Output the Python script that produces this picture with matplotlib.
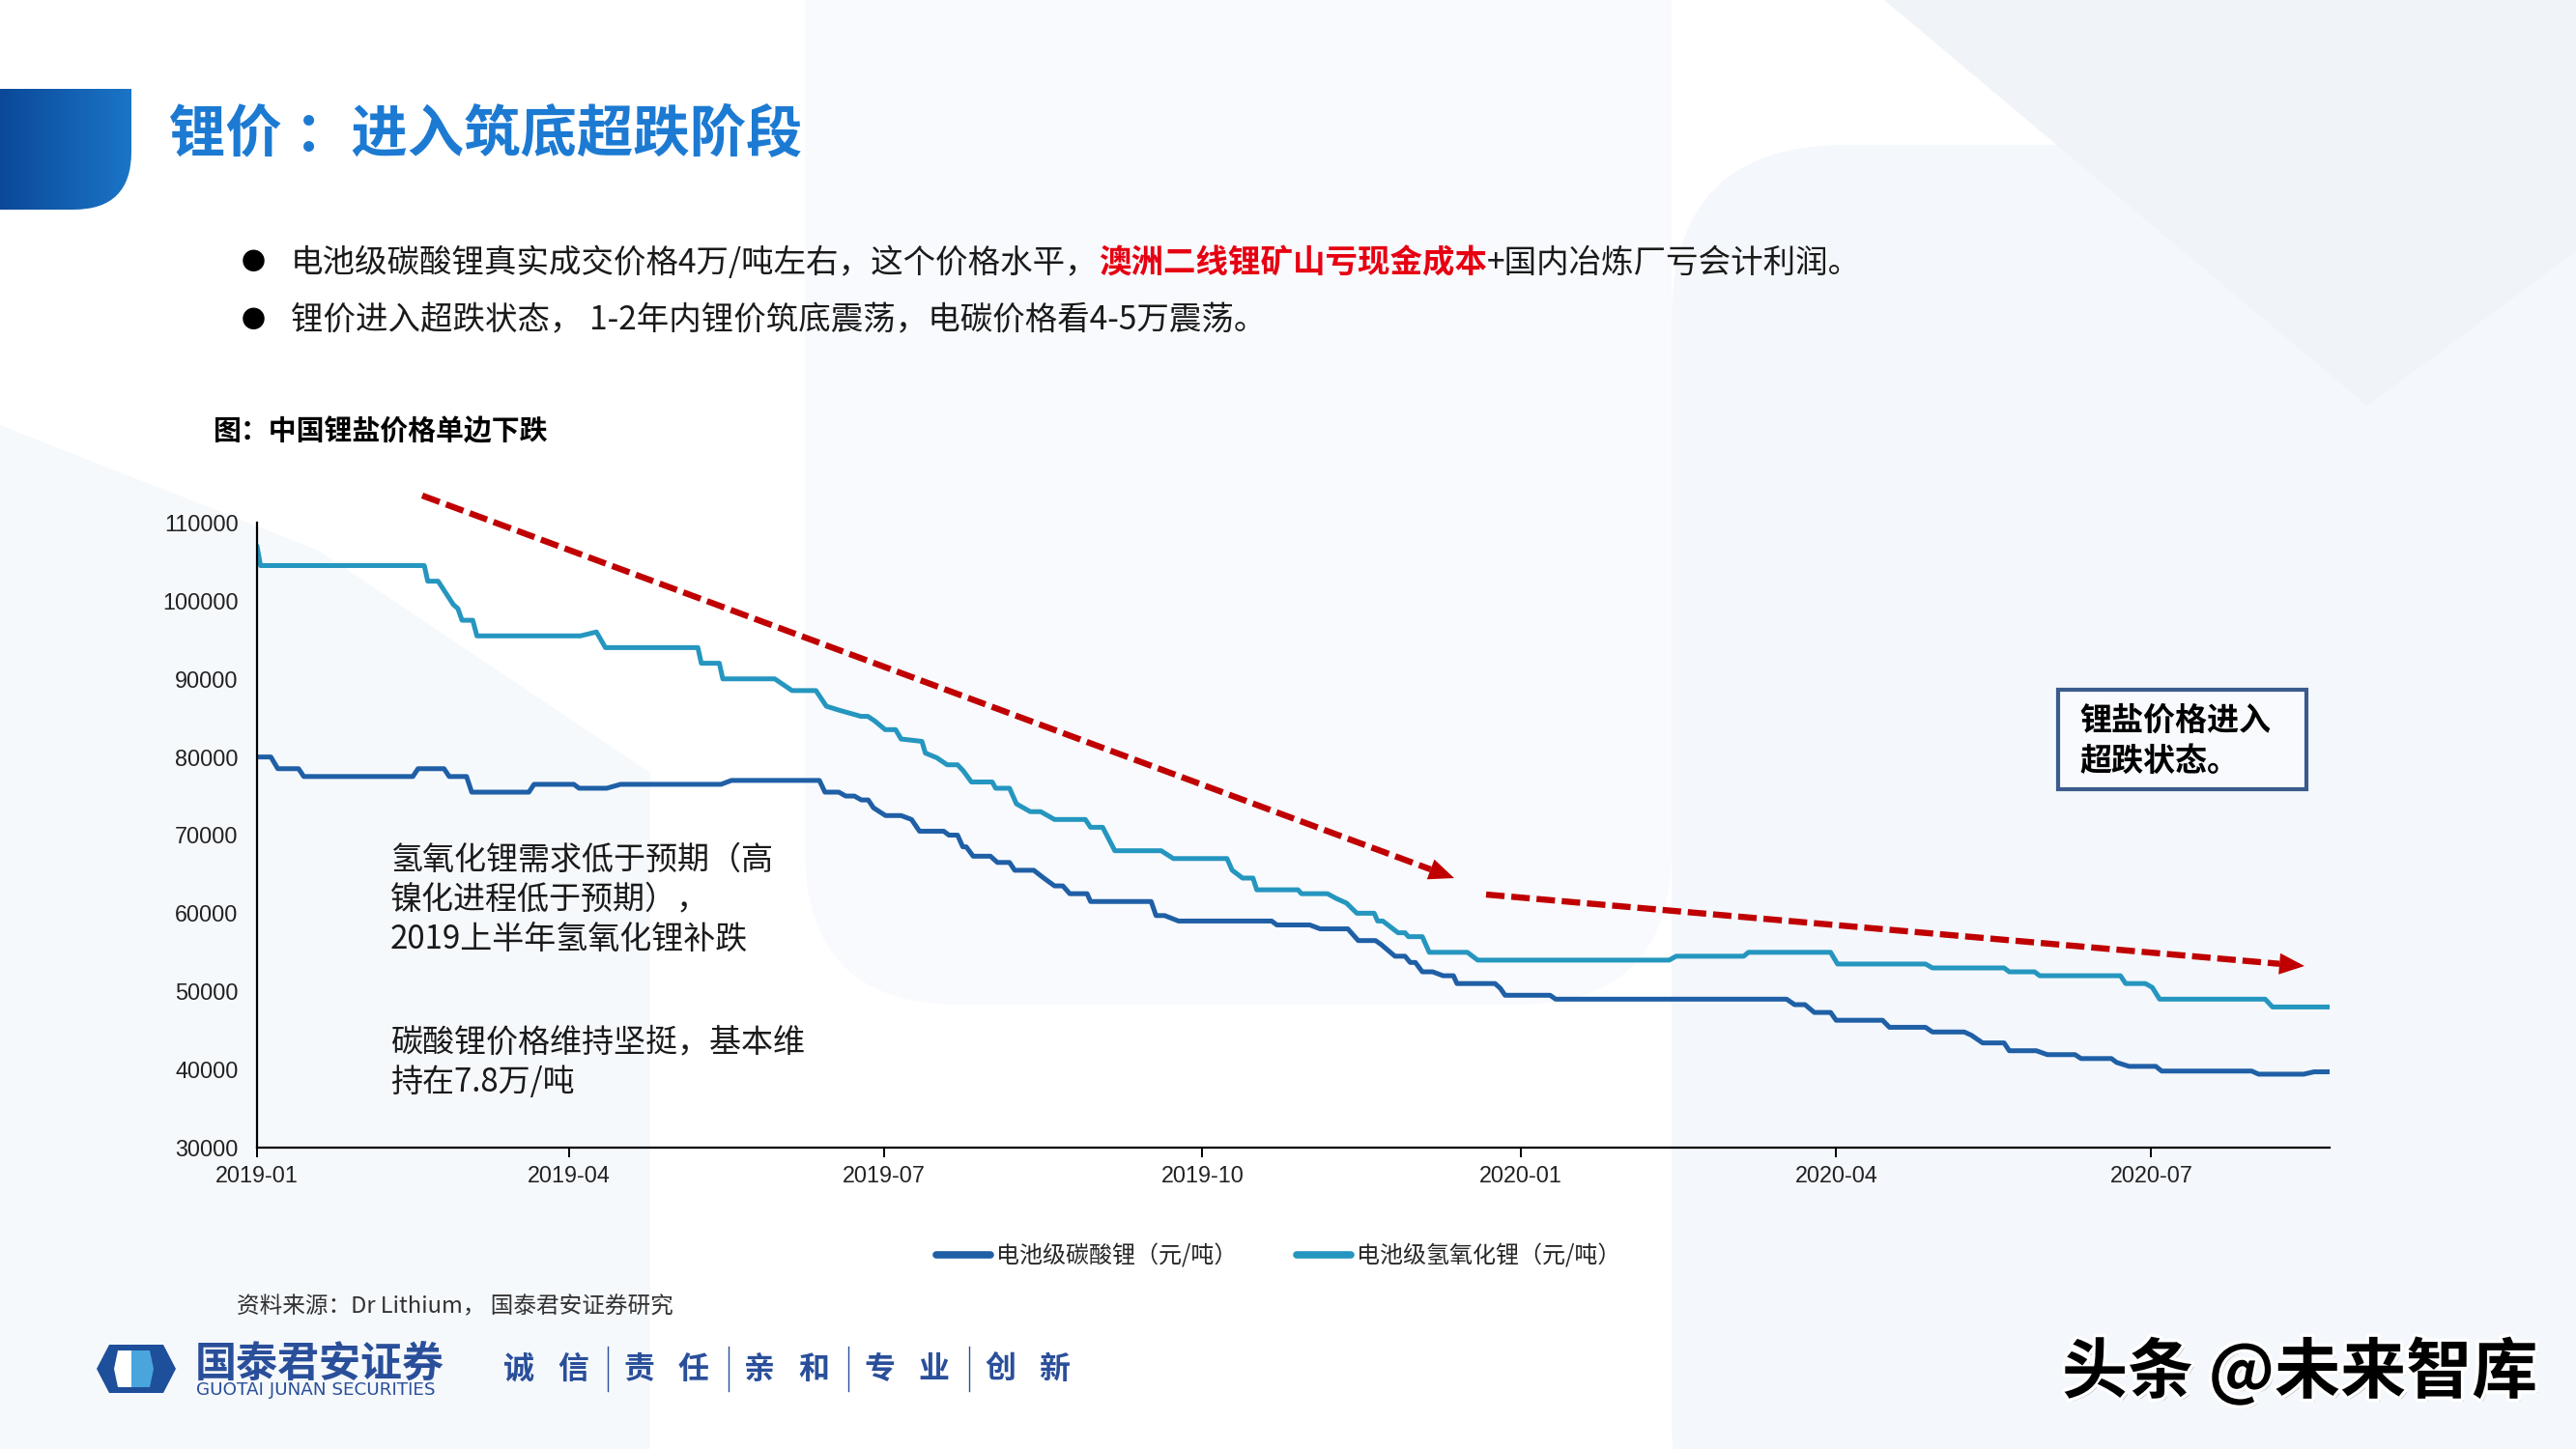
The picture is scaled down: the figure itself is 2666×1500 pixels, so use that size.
import numpy as np
import pandas as pd
import matplotlib
matplotlib.use('Agg')
import matplotlib.pyplot as plt
from matplotlib.patches import Polygon, Rectangle, PathPatch, FancyBboxPatch
from matplotlib.path import Path
from matplotlib.colors import LinearSegmentedColormap
import matplotlib.patheffects as pe

plt.rcParams['font.family'] = ['Noto Sans CJK SC', 'DejaVu Sans']

# 数据（从图中读取，day = 距 2019-01-01 的天数）
START = pd.Timestamp('2019-01-01')

carb_day = [0, 4, 6, 12, 13.5, 45, 46.5, 54, 55.5, 60.5, 62, 78.5, 80, 91.5, 93, 101, 105, 134, 137,
            162.4, 164, 168, 170, 172.5, 174.5, 176.5, 178, 181.5, 186, 189, 191.3, 198.3, 199.8, 202.3,
            203.8, 204.8, 206.8, 211.8, 213.8, 217.3, 218.8, 224.3, 227.2, 230.3, 232.7, 234.7, 239.7,
            240.7, 258.2, 259.6, 262.1, 266.1, 293, 294.5, 304, 307, 315, 318, 323, 324.6, 328.6, 331.5,
            333, 334.5, 336.5, 339.5, 342.5, 345.5, 346.5, 357.5, 359, 360.4, 373.4, 375, 441.7, 444,
            447, 449.7, 454.4, 456, 469.4, 471.4, 481.8, 483.8, 493, 495, 498.3, 504.5, 506, 513.8, 517,
            525, 526.7, 535.5, 537, 540.6, 548.3, 550, 576, 578, 591, 594, 598.5]
carb_price = [80000, 80000, 78500, 78500, 77500, 77500, 78500, 78500, 77500, 77500, 75500, 75500, 76500,
              76500, 76000, 76000, 76500, 76500, 77000,
              77000, 75500, 75500, 75000, 75000, 74500, 74500, 73500, 72500, 72500, 72000, 70500, 70500,
              70000, 70000,
              68500, 68500, 67300, 67300, 66500, 66500, 65500, 65500, 64500, 63500, 63500, 62500, 62500,
              61500, 61500, 59700, 59700, 59000, 59000, 58500, 58500, 58000, 58000, 56500, 56500, 56000,
              54500, 54500,
              53700, 53700, 52500, 52500, 52000, 52000, 51000, 51000, 50400, 49500, 49500, 49000, 49000,
              48300,
              48300, 47300, 47300, 46300, 46300, 45400, 45400, 44800, 44800, 44400, 43400, 43400, 42400,
              42400, 41900,
              41900, 41400, 41400, 40900, 40400, 40400, 39800, 39800, 39400, 39400, 39700, 39700]

hydro_day = [0, 1, 48.3, 49.3, 52.3, 54.5, 56.7, 58, 59.2, 62.3, 63.5, 93.4, 98, 100.6, 127.3, 128.3,
             133.5, 134.5, 149.5, 154.5, 161.4, 164.4, 168, 174.4, 176.4, 178.4, 181.4, 184.4, 186, 192,
             193, 196.3, 199.3, 202.3, 204, 206.3, 212.3, 213.3, 217.3, 219.3, 223.3, 226.3, 230.3, 239.2,
             240.7, 244.2, 247.7, 261.1, 264.6, 280.1, 281.6, 284.6, 287.6, 288.7, 300.6, 301.6, 309.1,
             311.6, 314.6, 317.6, 322.6, 323.6, 325.1, 329.5, 331.5, 332.5, 336.5, 338.5, 349.5, 352.5,
             407.8, 409.8, 429.3, 430.7, 454.4, 456.4, 481.8, 483.8, 504.5, 506, 513.3, 514.8, 538.1,
             539.6, 545.3, 547.3, 549.4, 579.9, 582, 598.5]
hydro_price = [107000, 104500, 104500, 102500, 102500, 101000, 99500, 99000, 97500, 97500, 95500, 95500,
               96000, 94000, 94000, 92000,
               92000, 90000, 90000, 88500, 88500, 86500, 86000, 85200, 85200, 84600, 83500, 83500, 82300,
               82000,
               80500, 79900, 79000, 79000, 78200, 76800, 76800, 76000, 76000, 74000, 73000, 73000, 72000,
               72000,
               71000, 71000, 68000, 68000, 67000, 67000, 65500, 64500, 64500, 63000, 63000, 62500, 62500,
               61900, 61300, 60000, 60000, 59000, 59000, 57500, 57500, 57000, 57000, 55000, 55000, 54000,
               54000, 54500, 54500, 55000, 55000, 53500, 53500, 53000, 53000, 52500, 52500, 52000, 52000,
               51000, 51000, 50500, 49000, 49000, 48000, 48000]

tick_months = ['2019-01', '2019-04', '2019-07', '2019-10', '2020-01', '2020-04', '2020-07']
y_ticks = [30000, 40000, 50000, 60000, 70000, 80000, 90000, 100000, 110000]

DARK = '#1F5FA6'
LIGHT = '#2596BF'
RED = '#C00000'
NAVY = '#2A4F9A'
TXT = '#1a1a1a'

W, H = 2666, 1500
fig = plt.figure(figsize=(W / 100, H / 100), dpi=100)
fig.patch.set_facecolor('white')

# 背景层，像素坐标
bg = fig.add_axes([0, 0, 1, 1], zorder=0)
bg.axis('off')

# 淡色背景块
bg.add_patch(Polygon([(0, 440), (330, 570), (673, 800), (673, 1500), (0, 1500)],
                     color='#f6f9fc', lw=0, zorder=0))
bg.add_patch(FancyBboxPatch((833, -200), 897, 1240, boxstyle='round,pad=0,rounding_size=160',
                            color='#f8fafd', lw=0, zorder=0))
bg.add_patch(FancyBboxPatch((1730, 150), 1200, 1500, boxstyle='round,pad=0,rounding_size=180',
                            color='#f4f7fb', lw=0, zorder=0))
bg.add_patch(Polygon([(1950, 0), (2666, 0), (2666, 260), (2450, 420)],
                     color='#f0f4f9', lw=0, zorder=0))

# 左上角蓝色色块（渐变）
verts = [(0, 92), (136, 92), (136, 157), (136, 217), (76, 217), (0, 217), (0, 92)]
codes = [Path.MOVETO, Path.LINETO, Path.LINETO, Path.CURVE3, Path.CURVE3, Path.LINETO, Path.CLOSEPOLY]
clip = PathPatch(Path(verts, codes), facecolor='none', edgecolor='none')
bg.add_patch(clip)
grad_cmap = LinearSegmentedColormap.from_list('hdr', ['#0b4899', '#1b75c7'])
im = bg.imshow(np.linspace(0, 1, 256).reshape(1, -1), cmap=grad_cmap, extent=(0, 136, 217, 92),
               aspect='auto', zorder=1)
im.set_clip_path(clip)
bg.set_xlim(0, W)
bg.set_ylim(H, 0)

# 标题
bg.text(175, 139, '锂价 ：进入筑底超跌阶段', fontsize=42, fontweight='bold', color='#1C7AD2',
        ha='left', va='center')

# 要点
for yy in (272, 332):
    bg.text(262, yy, '●', fontsize=18, color='black', ha='center', va='center')
t1 = bg.text(301, 272, '电池级碳酸锂真实成交价格4万/吨左右，这个价格水平，', fontsize=24.1,
             color=TXT, ha='left', va='center')
t2 = bg.annotate('澳洲二线锂矿山亏现金成本', xy=(1, 0), xycoords=t1, fontsize=24.1,
                 fontweight='bold', color='#E60012', ha='left', va='bottom')
bg.annotate('+国内冶炼厂亏会计利润。', xy=(1, 0), xycoords=t2, fontsize=24.1,
            color=TXT, ha='left', va='bottom')
bg.text(301, 332, '锂价进入超跌状态， 1-2年内锂价筑底震荡，电碳价格看4-5万震荡。', fontsize=24.1,
        color=TXT, ha='left', va='center')

# 图表小标题
bg.text(221, 446, '图：中国锂盐价格单边下跌', fontsize=20.8, fontweight='bold', color='black',
        ha='left', va='center')

# 主图
ax = fig.add_axes([266 / W, (H - 1188) / H, (2411 - 266) / W, (1188 - 541) / H], zorder=2)
ax.patch.set_alpha(0)

carb_dates = START + pd.to_timedelta(carb_day, unit='D')
hydro_dates = START + pd.to_timedelta(hydro_day, unit='D')

ax.plot(carb_dates, carb_price, color=DARK, lw=3.6, label='电池级碳酸锂（元/吨）',
        solid_capstyle='round', solid_joinstyle='round')
ax.plot(hydro_dates, hydro_price, color=LIGHT, lw=3.6, label='电池级氢氧化锂（元/吨）',
        solid_capstyle='round', solid_joinstyle='round')

ax.set_xlim(START, START + pd.Timedelta(days=598.5))
ax.set_ylim(30000, 110000)
ax.set_yticks(y_ticks)
ax.set_yticklabels([str(v) for v in y_ticks], fontsize=16.8, color='#222222',
                   family=['Liberation Sans', 'DejaVu Sans'])
ax.set_xticks([pd.Timestamp(m + '-01') for m in tick_months])
ax.set_xticklabels(tick_months, fontsize=16.8, color='#222222', family=['Liberation Sans', 'DejaVu Sans'])
ax.tick_params(axis='y', length=0, pad=14)
ax.tick_params(axis='x', length=7, width=1.4, direction='out', pad=6, color='black')
for s in ('top', 'right'):
    ax.spines[s].set_visible(False)
for s in ('left', 'bottom'):
    ax.spines[s].set_linewidth(1.6)
    ax.spines[s].set_color('black')

leg = fig.legend(loc='center', bbox_to_anchor=(0.4963, 0.1333), ncol=2, frameon=False, fontsize=17.3,
                 handlelength=2.3, handletextpad=0.25, columnspacing=2.6)
for ln in leg.get_lines():
    ln.set_linewidth(5.5)
for tx in leg.get_texts():
    tx.set_color('#262626')

# 覆盖层：箭头、注释、页脚
over = fig.add_axes([0, 0, 1, 1], zorder=3)
over.set_xlim(0, W)
over.set_ylim(H, 0)
over.axis('off')
over.patch.set_alpha(0)


def dashed_arrow(x0, y0, x1, y1):
    dx, dy = x1 - x0, y1 - y0
    L = np.hypot(dx, dy)
    ux, uy = dx / L, dy / L
    hl, hw = 26, 22
    bx, by = x1 - ux * hl, y1 - uy * hl
    over.plot([x0, bx], [y0, by], color=RED, lw=4.6, ls=(0, (3.0, 1.1)), dash_capstyle='butt')
    px, py = -uy, ux
    over.add_patch(Polygon([(x1, y1), (bx + px * hw / 2, by + py * hw / 2),
                            (bx - px * hw / 2, by - py * hw / 2)], color=RED, lw=0))


dashed_arrow(437, 513, 1505, 909)
dashed_arrow(1538, 926, 2385, 1000)

# 图中注释
note1 = ['氢氧化锂需求低于预期（高', '镍化进程低于预期），', '2019上半年氢氧化锂补跌']
for i, s in enumerate(note1):
    over.text(404, 890 + 41 * i, s, fontsize=23.8, color=TXT, ha='left', va='center')
note2 = ['碳酸锂价格维持坚挺，基本维', '持在7.8万/吨']
for i, s in enumerate(note2):
    over.text(404, 1079 + 41 * i, s, fontsize=23.8, color=TXT, ha='left', va='center')

over.add_patch(Rectangle((2130, 714), 257, 103, facecolor='#f8fafd', edgecolor='#3A5B8C', lw=3))
over.text(2152, 746, '锂盐价格进入', fontsize=23.8, fontweight='bold', color='black',
          ha='left', va='center')
over.text(2152, 788, '超跌状态。', fontsize=23.8, fontweight='bold', color='black',
          ha='left', va='center')

# 资料来源
over.text(245, 1353, '资料来源：Dr Lithium， 国泰君安证券研究', fontsize=17, color='#333333',
          ha='left', va='center')

# 页脚 logo
over.add_patch(Polygon([(100, 1417), (113, 1392), (169, 1392), (182, 1417), (169, 1442), (113, 1442)],
                       color='#1D4F9A', lw=0))
over.add_patch(Polygon([(122, 1398), (136, 1398), (136, 1436), (122, 1436), (118, 1417)],
                       color='white', lw=0))
over.add_patch(Polygon([(136, 1398), (155, 1398), (159, 1417), (155, 1436), (136, 1436)],
                       color='#4AA5DD', lw=0))
over.text(202, 1412, '国泰君安证券', fontsize=31, fontweight='bold', color=NAVY, ha='left', va='center')
over.text(203, 1439, 'GUOTAI JUNAN SECURITIES', fontsize=13.2, color=NAVY, ha='left', va='center',
          family=['DejaVu Sans'])

slogan = ['诚信', '责任', '亲和', '专业', '创新']
for i, pair in enumerate(slogan):
    x0 = 537 + 124.5 * i
    over.text(x0, 1418, pair[0], fontsize=23, fontweight='bold', color=NAVY, ha='center', va='center')
    over.text(x0 + 56, 1418, pair[1], fontsize=23, fontweight='bold', color=NAVY, ha='center', va='center')
    if i < len(slogan) - 1:
        over.plot([x0 + 92, x0 + 92], [1394, 1440], color=NAVY, lw=1.0)

# 水印
over.text(2134, 1421, '头条 @未来智库', fontsize=49, fontweight='bold', color='black',
          ha='left', va='center',
          path_effects=[pe.withSimplePatchShadow(offset=(2, -2), shadow_rgbFace='#777777', alpha=0.7),
                        pe.withStroke(linewidth=5, foreground='white')])

fig.savefig('out.png', dpi=100)
